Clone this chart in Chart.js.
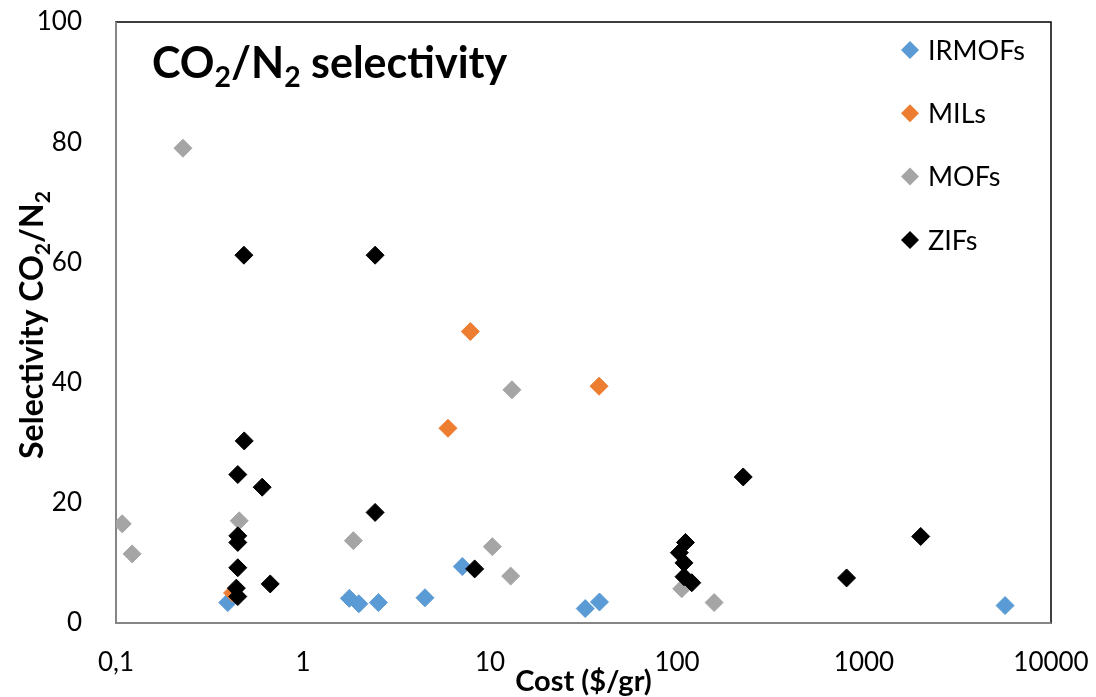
<!DOCTYPE html>
<html>
<head>
<meta charset="utf-8">
<script src="https://cdn.jsdelivr.net/npm/chart.js@4.4.1/dist/chart.umd.min.js"></script>
<style>
  body { margin: 0; background: #fff; }
  #wrap { width: 1096px; height: 697px; }
</style>
</head>
<body>
<div id="wrap"><canvas id="myChart" width="1096" height="697"></canvas></div>
<script>
// data (cost in $/gr, CO2/N2 selectivity)
const irmofCost = [0.396, 1.77, 1.99, 2.53, 4.49, 7.11, 32.3, 38.5, 5680];
const irmofSel = [3.4, 4.1, 3.2, 3.4, 4.2, 9.4, 2.4, 3.5, 2.9];

const milCost = [0.42, 5.96, 7.85, 38.3];
const milSel = [5.0, 32.4, 48.5, 39.4];

const mofCost = [0.108, 0.122, 0.228, 0.456, 1.86, 10.3, 12.9, 13.1, 106, 158];
const mofSel = [16.5, 11.5, 79.0, 17.0, 13.7, 12.7, 7.8, 38.8, 5.7, 3.4];

const zifCost = [0.483, 0.485, 0.448, 0.605, 0.448, 0.448, 0.448, 0.668, 0.44, 0.448,
  2.43, 2.43, 8.28, 226, 111, 103, 109, 109, 120, 807, 2010];
const zifSel = [61.2, 30.3, 24.7, 22.6, 14.5, 13.4, 9.2, 6.5, 5.8, 4.4,
  61.2, 18.4, 9.0, 24.3, 13.4, 11.7, 10.0, 7.7, 6.7, 7.5, 14.4];

const seriesNames = ["IRMOFs", "MILs", "MOFs", "ZIFs"];
const seriesColors = ["#5B9BD5", "#ED7D31", "#A5A5A5", "#000000"];

const xTicks = [0.1, 1, 10, 100, 1000, 10000];
const xTickLabels = ["0,1", "1", "10", "100", "1000", "10000"];
const yTicks = [0, 20, 40, 60, 80, 100];

const FONT = "Lato, 'Open Sans', sans-serif";

function toPoints(xs, ys) {
  return xs.map((x, i) => ({ x: x, y: ys[i] }));
}

// text with subscripts, parts = [[text, isSub], ...]
function drawRich(ctx, parts, x, y, size, align) {
  let total = 0;
  parts.forEach((p) => {
    ctx.font = "bold " + (p[1] ? size * 0.66 : size) + "px " + FONT;
    total += ctx.measureText(p[0]).width;
  });
  let cx = align === "center" ? x - total / 2 : x;
  ctx.textAlign = "left";
  ctx.textBaseline = "alphabetic";
  parts.forEach((p) => {
    ctx.font = "bold " + (p[1] ? size * 0.66 : size) + "px " + FONT;
    ctx.fillText(p[0], cx, p[1] ? y + size * 0.22 : y);
    cx += ctx.measureText(p[0]).width;
  });
}

const extras = {
  id: "extras",
  beforeDatasetsDraw(chart) {
    const ctx = chart.ctx;
    const a = chart.chartArea;
    ctx.save();
    ctx.strokeStyle = "#000";
    ctx.lineWidth = 1.5;
    ctx.strokeRect(a.left, a.top, a.right - a.left, a.bottom - a.top);
    ctx.strokeStyle = "#868686";
    ctx.lineWidth = 2;
    ctx.beginPath();
    ctx.moveTo(a.left, a.top);
    ctx.lineTo(a.left, a.bottom);
    ctx.lineTo(a.right, a.bottom);
    ctx.stroke();
    ctx.restore();
  },
  afterDraw(chart) {
    const ctx = chart.ctx;
    const a = chart.chartArea;
    ctx.save();
    ctx.fillStyle = "#000";
    // title inside the plot
    drawRich(ctx, [["CO", 0], ["2", 1], ["/N", 0], ["2", 1], [" selectivity", 0]], a.left + 36, 78, 43, "left");
    // axis titles
    drawRich(ctx, [["Cost ($/gr)", 0]], (a.left + a.right) / 2, 691, 29, "center");
    ctx.save();
    ctx.translate(43, 325);
    ctx.rotate(-Math.PI / 2);
    drawRich(ctx, [["Selectivity CO", 0], ["2", 1], ["/N", 0], ["2", 1]], 0, 0, 32, "center");
    ctx.restore();
    // legend
    seriesNames.forEach((name, i) => {
      const lx = 910, ly = 50 + i * 63.3;
      ctx.fillStyle = seriesColors[i];
      ctx.beginPath();
      ctx.moveTo(lx - 9, ly);
      ctx.lineTo(lx, ly - 9);
      ctx.lineTo(lx + 9, ly);
      ctx.lineTo(lx, ly + 9);
      ctx.closePath();
      ctx.fill();
      ctx.fillStyle = "#000";
      ctx.font = "27px " + FONT;
      ctx.textAlign = "left";
      ctx.textBaseline = "middle";
      ctx.fillText(name, 928, ly + 1);
    });
    ctx.restore();
  },
};

const allCosts = [irmofCost, milCost, mofCost, zifCost];
const allSels = [irmofSel, milSel, mofSel, zifSel];

new Chart(document.getElementById("myChart"), {
  type: "scatter",
  data: {
    datasets: seriesNames.map((name, i) => ({
      label: name,
      data: toPoints(allCosts[i], allSels[i]),
      pointStyle: "rectRot",
      pointRadius: 9,
      pointHoverRadius: 9,
      borderWidth: 1,
      backgroundColor: seriesColors[i],
      borderColor: seriesColors[i],
      order: 4 - i, // ZIFs on top
    })),
  },
  options: {
    responsive: false,
    animation: false,
    layout: { padding: { top: 22, right: 45, left: 0, bottom: 0 } },
    plugins: { legend: { display: false }, tooltip: { enabled: false } },
    scales: {
      x: {
        type: "logarithmic",
        min: 0.1,
        max: 10000,
        afterBuildTicks: (scale) => {
          scale.ticks = xTicks.map((v) => ({ value: v }));
        },
        afterFit: (scale) => {
          scale.height = 74;
          scale.paddingLeft = 0;
          scale.paddingRight = 0;
        },
        ticks: {
          padding: 24,
          color: "#000",
          font: { family: FONT, size: 26 },
          callback: (value) => xTickLabels[xTicks.indexOf(value)],
          maxRotation: 0,
        },
        grid: { display: false, drawTicks: false },
        border: { display: false },
      },
      y: {
        min: 0,
        max: 100,
        afterBuildTicks: (scale) => {
          scale.ticks = yTicks.map((v) => ({ value: v }));
        },
        afterFit: (scale) => {
          scale.width = 116;
          scale.paddingTop = 0;
          scale.paddingBottom = 0;
        },
        ticks: {
          padding: 34,
          color: "#000",
          font: { family: FONT, size: 26 },
        },
        grid: { display: false, drawTicks: false },
        border: { display: false },
      },
    },
  },
  plugins: [extras],
});
</script>
</body>
</html>
